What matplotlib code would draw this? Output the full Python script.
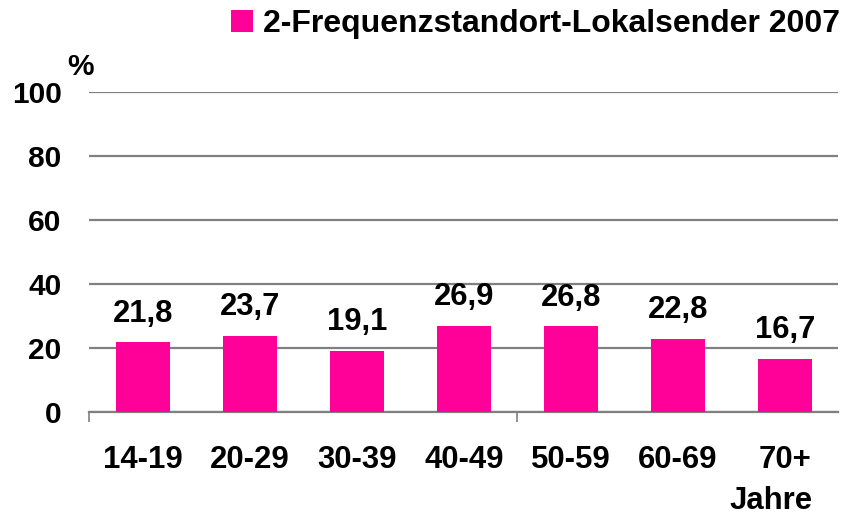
import matplotlib
matplotlib.use("Agg")
import matplotlib.pyplot as plt
import numpy as np

plt.rcParams['font.family'] = ['Liberation Sans', 'DejaVu Sans']
plt.rcParams['font.weight'] = 'bold'

categories = ["14-19", "20-29", "30-39", "40-49", "50-59", "60-69", "70+"]
values = [21.8, 23.7, 19.1, 26.9, 26.8, 22.8, 16.7]
labels = ["21,8", "23,7", "19,1", "26,9", "26,8", "22,8", "16,7"]
series_name = "2-Frequenzstandort-Lokalsender 2007"
yticks = [0, 20, 40, 60, 80, 100]

pink = "#FF0099"
grey = "#808080"
fs = 21.5

fig = plt.figure(figsize=(8.45, 5.18), dpi=100)
W, H = 845, 518
ax = fig.add_axes([89.5 / W, 1 - 412 / H, (838.5 - 89.5) / W, (412 - 92.5) / H])

x = np.arange(len(categories))
bars = ax.bar(x, values, width=0.5, color=pink, zorder=3, label=series_name)

for xi, v, lab in zip(x, values, labels):
    ax.annotate(lab, (xi, v), xytext=(0, 15), textcoords="offset points",
                ha="center", va="baseline", fontsize=22.3, fontweight="bold")

ax.set_xlim(-0.5, len(categories) - 0.5)
ax.set_ylim(0, 100)
ax.set_yticks(yticks)
ax.set_yticklabels([str(t) for t in yticks])
ax.yaxis.grid(True, color=grey, linewidth=1.6, zorder=0)
ax.set_xticks(x)
ax.set_xticklabels(categories)
ax.set_xticks([-0.5, 3.5], minor=True)

for s in ["top", "right", "left"]:
    ax.spines[s].set_visible(False)
ax.spines["bottom"].set_color(grey)
ax.spines["bottom"].set_linewidth(1.6)

ax.tick_params(axis="y", length=0, pad=20, labelsize=fs)
ax.tick_params(axis="x", which="major", length=0, pad=24, labelsize=22.4)
ax.tick_params(axis="x", which="minor", length=7, width=1.2, color=grey)

fig.text(67 / W, 1 - 75 / H, "%", fontsize=fs, fontweight="bold", ha="left", va="baseline")
fig.text(771 / W, 1 - 509 / H, "Jahre", fontsize=22.4, fontweight="bold", ha="center", va="baseline")

fig.legend(handles=[bars], labels=[series_name], loc="upper right",
           bbox_to_anchor=(840 / W, 1 - 9 / H), frameon=False,
           handlelength=0.7, handleheight=0.7, handletextpad=0.3,
           borderpad=0, borderaxespad=0, prop={'weight': 'bold', 'size': 23})

fig.savefig("out.png", dpi=100)
